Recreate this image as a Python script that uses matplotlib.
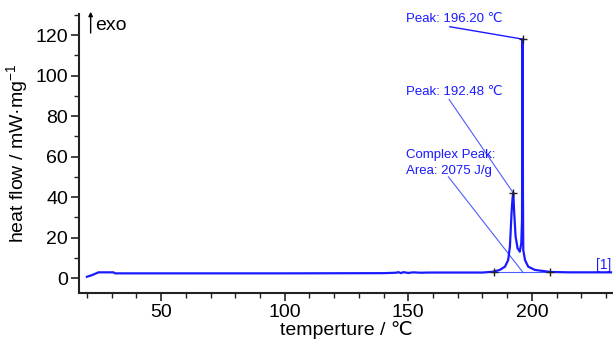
import matplotlib
matplotlib.use("Agg")
import matplotlib.pyplot as plt
from matplotlib.ticker import MultipleLocator

FAM = ['Liberation Sans', 'DejaVu Sans']
plt.rcParams['font.family'] = FAM
plt.rcParams['mathtext.fontset'] = 'custom'
plt.rcParams['mathtext.rm'] = 'Liberation Sans'
plt.rcParams['mathtext.it'] = 'Liberation Sans'

# ---- data ----
temperature = [20.0, 22.0, 24.7, 30.7, 31.4, 60.0, 100.0, 140.0, 145.0, 146.0,
               147.0, 148.0, 150.0, 152.0, 155.0, 158.0, 170.0, 180.0, 184.3, 187.0,
               189.1, 190.4, 191.1, 191.8, 192.2, 192.48, 192.8, 193.4, 194.2, 195.1,
               195.7, 196.0, 196.2, 196.3, 196.38, 196.5, 197.2, 198.5, 201.2, 207.3,
               215.0, 232.0]
heat_flow = [0.6, 1.4, 2.8, 2.8, 2.3, 2.3, 2.3, 2.4, 2.6, 2.9,
             2.4, 2.9, 2.5, 2.8, 2.6, 2.7, 2.7, 2.7, 3.1, 4.0,
             5.6, 8.9, 15.5, 33.0, 40.0, 42.0, 33.0, 20.4, 14.7, 13.0,
             17.1, 28.6, 118.0, 81.0, 40.0, 13.8, 8.9, 5.6, 4.0, 3.0,
             2.8, 2.8]

peak_T = [196.20, 192.48]
peak_val = [118.0, 42.0]
peak_labels = ['Peak: 196.20 ℃', 'Peak: 192.48 ℃']
area_label = ['Complex Peak:', 'Area: 2075 J/g']
limits_T = [184.7, 207.3]
limits_val = [2.8, 2.8]

x_ticks = [50, 100, 150, 200]
y_ticks = [0, 20, 40, 60, 80, 100, 120]

BLUE = '#1a1aff'
LIGHT = '#4d5cff'

fig = plt.figure(figsize=(6.13, 3.43), dpi=100)
ax = fig.add_axes([0.1289, 0.1458, 0.8711, 0.8134])
ax.set_xlim(16.8, 232.8)
ax.set_ylim(-7.4, 130.4)

# integration baseline
ax.plot(limits_T, limits_val, color=LIGHT, lw=0.8, zorder=2)
# curve
ax.plot(temperature, heat_flow, color=BLUE, lw=1.6, zorder=3, solid_joinstyle='round')

# markers
ax.plot(limits_T + peak_T, limits_val + peak_val, ls='none', marker='+',
        color='#222222', ms=6, mew=1.0, zorder=4)

# leader lines and labels
ax.plot([166.8, peak_T[0]], [124.1, peak_val[0]], color=BLUE, lw=1.0, zorder=2)
ax.plot([166.5, peak_T[1]], [88.2, peak_val[1]], color=LIGHT, lw=0.8, zorder=2)
ax.plot([166.2, 196.5], [50.0, 2.6], color=LIGHT, lw=0.8, zorder=2)

tk = dict(color=BLUE, fontsize=9.5, ha='left', va='center')
ax.text(149.0, 127.9, peak_labels[0], **tk)
ax.text(149.0, 92.0, peak_labels[1], **tk)
ax.text(149.0, 60.7, area_label[0], **tk)
ax.text(149.0, 53.0, area_label[1], **tk)
ax.text(225.8, 6.4, '[1]', color=BLUE, fontsize=10, ha='left', va='center')

# exo arrow
ax.annotate('', xy=(21.5, 131.5), xytext=(21.5, 121.0),
            arrowprops=dict(arrowstyle='-|>', color='black', lw=1.0,
                            mutation_scale=6, shrinkA=0, shrinkB=0),
            annotation_clip=False)
ax.text(23.3, 124.5, 'exo', fontsize=14, ha='left', va='center')

# axes styling
for s in ['top', 'right']:
    ax.spines[s].set_visible(False)
for s in ['left', 'bottom']:
    ax.spines[s].set_linewidth(1.5)
    ax.spines[s].set_color('#222222')

ax.set_xticks(x_ticks)
ax.set_yticks(y_ticks)
ax.xaxis.set_minor_locator(MultipleLocator(10))
ax.yaxis.set_minor_locator(MultipleLocator(10))
ax.tick_params(which='major', direction='out', length=6, width=1.2,
               labelsize=14, color='#222222', pad=2)
ax.tick_params(which='minor', direction='out', length=3.5, width=1.0, color='#222222')

ax.set_xlabel('temperture / ℃', fontsize=14, labelpad=0)
ax.set_ylabel('heat flow / mW·mg$^{-1}$', fontsize=14, labelpad=4)

fig.savefig('out.png', dpi=100)
